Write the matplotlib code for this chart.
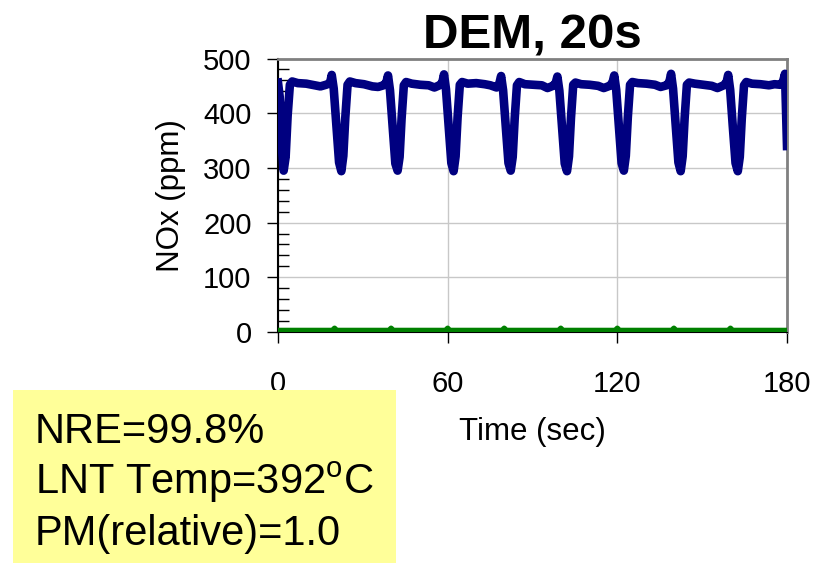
import matplotlib
matplotlib.use('Agg')
import matplotlib.pyplot as plt
from matplotlib.patches import Rectangle
from matplotlib.ticker import MultipleLocator

plt.rcParams['font.family'] = ['Liberation Sans', 'DejaVu Sans']
plt.rcParams['mathtext.default'] = 'regular'

# NOx trace (sec, ppm)
nox_time = [0.0, 0.6, 1.2, 2.0, 2.7, 3.4, 4.2, 5.0, 7.0, 10.0, 13.0, 15.0, 17.0,
            18.4, 19.0, 19.7, 20.6, 21.6, 22.4, 23.1, 23.8, 24.6, 25.4, 27.4, 30.4, 33.4, 35.4, 37.3,
            38.3, 38.9, 39.6, 40.5, 41.5, 42.3, 43.0, 43.7, 44.5, 45.3, 47.3, 50.3, 53.3, 55.3, 57.1,
            58.1, 58.7, 59.4, 60.3, 61.3, 62.1, 62.8, 63.5, 64.3, 65.1, 67.1, 70.1, 73.1, 75.1, 77.3,
            78.3, 78.9, 79.6, 80.5, 81.5, 82.3, 83.0, 83.7, 84.5, 85.3, 87.3, 90.3, 93.3, 95.3, 97.2,
            98.2, 98.8, 99.5, 100.4, 101.4, 102.2, 102.9, 103.6, 104.4, 105.2, 107.2, 110.2, 113.2, 115.2, 117.3,
            118.3, 118.9, 119.6, 120.5, 121.5, 122.3, 123.0, 123.7, 124.5, 125.3, 127.3, 130.3, 133.3, 135.3, 137.4,
            138.4, 139.0, 139.7, 140.6, 141.6, 142.4, 143.1, 143.8, 144.6, 145.4, 147.4, 150.4, 153.4, 155.4, 157.6,
            158.6, 159.2, 159.9, 160.8, 161.8, 162.6, 163.3, 164.0, 164.8, 165.6, 167.6, 170.6, 173.6, 175.6, 177.6,
            178.6, 179.3, 180.0]
nox_ppm = [456, 430, 350, 295, 320, 395, 452, 458, 455, 454, 451, 449, 452,
           455, 470, 445, 380, 310, 294, 322, 392, 452, 458, 455, 453, 449, 448, 451,
           456, 469, 442, 378, 308, 295, 320, 390, 451, 457, 454, 452, 451, 447, 451,
           456, 471, 444, 380, 309, 294, 321, 392, 452, 457, 454, 455, 453, 451, 447,
           455, 468, 442, 378, 309, 295, 320, 390, 451, 457, 453, 452, 451, 446, 450,
           455, 467, 441, 377, 308, 294, 321, 391, 452, 456, 453, 452, 450, 446, 450,
           456, 469, 443, 379, 309, 295, 322, 392, 452, 457, 455, 454, 452, 448, 451,
           457, 472, 445, 380, 310, 294, 321, 391, 452, 456, 454, 452, 450, 446, 451,
           456, 470, 443, 378, 309, 294, 320, 390, 451, 457, 454, 453, 451, 453, 452,
           458, 472, 340]

# NOx downstream, nearly zero with small bumps every 20 s
out_time = [0, 19.2, 20, 20.8, 39.2, 40, 40.8, 59.2, 60, 60.8, 79.2, 80, 80.8, 99.2, 100, 100.8,
            119.2, 120, 120.8, 139.2, 140, 140.8, 159.2, 160, 160.8, 180]
out_ppm = [3, 3, 7, 3, 3, 7, 3, 3, 7, 3, 3, 7, 3, 3, 7, 3,
           3, 7, 3, 3, 7, 3, 3, 7, 3, 3]

info_lines = ['NRE=99.8%', 'LNT Temp=392$^{o}$C', 'PM(relative)=1.0']

fig = plt.figure(figsize=(8.23, 5.68), dpi=100)
ax = fig.add_axes([278 / 823, 1 - 332 / 568, 509 / 823, 273.5 / 568])

ax.plot(nox_time, nox_ppm, color='#000080', linewidth=6.2, solid_joinstyle='round', zorder=3)
ax.plot(out_time, out_ppm, color='#008000', linewidth=3.8, zorder=4)

ax.set_xlim(0, 180)
ax.set_ylim(0, 500)
ax.set_xticks([0, 60, 120, 180])
ax.set_yticks([0, 100, 200, 300, 400, 500])
ax.yaxis.set_minor_locator(MultipleLocator(20))
ax.grid(True, color='#c8c8c8', linewidth=1)
ax.set_axisbelow(True)

ax.tick_params(axis='both', which='major', direction='out', length=8, width=1,
               labelsize=21)
ax.tick_params(axis='x', which='major', pad=19)
ax.tick_params(axis='y', which='major', pad=11)
ax.tick_params(axis='y', which='minor', direction='in', length=8, width=1)

for side in ['top', 'right']:
    ax.spines[side].set_color('#808080')
    ax.spines[side].set_linewidth(2)
ax.spines['left'].set_linewidth(1.5)

ax.set_title('DEM, 20s', fontsize=35.5, fontweight='bold', pad=7)
ax.set_ylabel('NOx (ppm)', fontsize=22.5)
ax.yaxis.set_label_coords(-0.181, 0.5)
ax.set_xlabel('Time (sec)', fontsize=22.5)
ax.xaxis.set_label_coords(0.5, -0.312)

# yellow note box
fig.patches.append(Rectangle((13 / 823, 1 - 563 / 568), 383 / 823, 173 / 568,
                             transform=fig.transFigure, facecolor='#ffff99',
                             edgecolor='none', zorder=0))
for i, line in enumerate(info_lines):
    fig.text(35 / 823, 1 - (443 + 51 * i) / 568, line, fontsize=30, va='baseline')

fig.savefig('out.png', dpi=100)
